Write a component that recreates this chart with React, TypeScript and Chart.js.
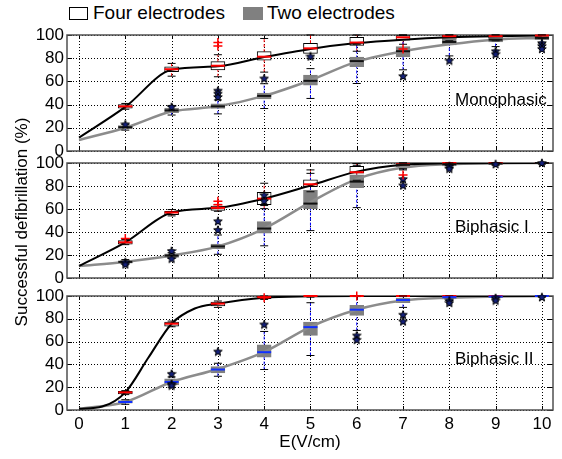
import React, { useEffect, useRef } from "react";
import { Chart, registerables } from "chart.js";
Chart.register(...registerables);

const FONT = "'Liberation Sans', Arial, Helvetica, sans-serif";
Chart.defaults.font.family = FONT;

// ---------- data ----------
const X_TICKS = [0, 1, 2, 3, 4, 5, 6, 7, 8, 9, 10];
const Y_TICKS = [0, 20, 40, 60, 80, 100];
const BOX_X = [1, 2, 3, 4, 5, 6, 7, 8, 9, 10];
const PANEL_NAMES = ["Monophasic", "Biphasic I", "Biphasic II"];
const LEGEND_LABELS = ["Four electrodes", "Two electrodes"];
const X_TITLE = "E(V/cm)";
const Y_TITLE = "Successful defibrillation (%)";

// box stats per E = 1..10 : [whiskerLow, q1, median, q3, whiskerHigh]
const monoFourBoxes = [
  [36, 37, 38.5, 40, 41], [64.5, 68.3, 70.5, 72.6, 75.5], [64, 70, 73.5, 77, 83],
  [68, 78.4, 81.3, 85.6, 97], [80, 84.2, 88.5, 92.8, 100], [86, 91, 93.5, 98, 100],
  [92, 95.5, 98, 99.5, 100], [95, 97, 99, 100, 100], [95, 97.5, 99, 100, 100],
  [97, 99, 99.5, 100, 100],
];
const monoTwoBoxes = [
  [18, 19, 20.5, 22, 23], [31, 33, 35, 37, 39], [32, 36.6, 38.5, 40.7, 44],
  [36.6, 45, 47.5, 50, 58], [45.3, 56.8, 60.5, 65.4, 71], [58.2, 72.6, 77.5, 81, 92],
  [70, 81, 86, 90, 100], [82, 91.4, 94, 98, 100], [90, 94, 96, 98.5, 100],
  [93, 96, 97.5, 99, 100],
];
const monoStars = [
  [1, 23], [2, 38], [3, 52], [3, 49.5], [3, 46.5], [4, 62.5], [5, 81.5], [7, 64.5],
  [8, 78], [9, 86], [9, 83.5], [10, 93], [10, 90.5], [10, 88],
];
const monoPlus = [[3, 93.5], [3, 90.5], [7, 88]];
const monoFourFit = [[0, 11.5], [1, 38], [2, 70], [3, 73], [4, 81], [5, 88], [6, 93], [7, 96], [8, 98], [9, 99], [10, 99.5]];
const monoTwoFit = [[0, 9.5], [1, 20], [2, 34], [3, 38.5], [4, 47.5], [5, 61], [6, 77], [7, 86], [8, 92], [9, 96], [10, 97.5]];

const bi1FourBoxes = [
  [29, 29.5, 31, 32.5, 33.5], [54, 55, 57, 58, 59.5], [58, 58.8, 61, 62.6, 64],
  [60.3, 63.8, 69, 74.4, 82.4], [75, 79.4, 81.5, 85.3, 94], [85, 91.2, 92, 97, 99.5],
  [95, 97, 99, 100, 100], [98, 99, 100, 100, 100], [99, 99.5, 100, 100, 100],
  [99.5, 100, 100, 100, 100],
];
const bi1TwoBoxes = [
  [12, 13, 14, 15, 16], [17, 18, 19.5, 21, 22], [20.6, 25.5, 27.5, 29.5, 37.4],
  [28, 39, 43, 49, 63], [41.2, 60.3, 64.7, 76.5, 91], [61.2, 78.5, 83.8, 89.7, 98],
  [94, 96.5, 98.5, 99.5, 100], [96, 97.5, 99, 100, 100], [98, 99, 99.5, 100, 100],
  [99, 99.5, 100, 100, 100],
];
const bi1Stars = [
  [1, 13.8], [1, 11.8], [2, 23.5], [2, 16.8], [3, 49.4], [3, 41.8], [4, 72], [4, 67],
  [7, 86], [7, 80.5], [8, 97], [8, 95], [9, 99], [10, 100],
];
const bi1Plus = [[1, 34.4], [3, 66.8], [3, 63.8], [7, 89.5]];
const bi1FourFit = [[0, 10.5], [1, 31], [2, 57], [3, 61], [4, 69], [5, 80.5], [6, 92.5], [7, 98.5], [8, 99.7], [9, 100], [10, 100]];
const bi1TwoFit = [[0, 10.5], [1, 14], [2, 19.5], [3, 27.5], [4, 43], [5, 66], [6, 86], [7, 96], [8, 99], [9, 99.7], [10, 100]];

const bi2FourBoxes = [
  [13.5, 14.1, 15.5, 16.4, 17], [73, 73.6, 75.7, 77.1, 78], [90, 91.2, 93.3, 94.7, 95.6],
  [97, 97.7, 99, 99.7, 100], [99, 99.5, 100, 100, 100], [99.5, 100, 100, 100, 100],
  [99.5, 100, 100, 100, 100], [99.5, 100, 100, 100, 100], [99.5, 100, 100, 100, 100],
  [99.5, 100, 100, 100, 100],
];
const bi2TwoBoxes = [
  [5, 5.9, 7, 8.2, 9], [20, 22.3, 24.6, 27.3, 29], [29.6, 32.6, 35.5, 38.1, 41],
  [35.5, 46.3, 50.7, 57.2, 68.9], [47.8, 65.4, 72.7, 77.1, 94.1], [69.8, 83, 88, 91.8, 100],
  [90, 94.1, 96.5, 98.2, 100], [96, 97.5, 99, 100, 100], [97.5, 98.5, 99.5, 100, 100],
  [99, 99.5, 100, 100, 100],
];
const bi2Stars = [
  [2, 31.7], [2, 22.9], [2, 21.4], [3, 51.3], [4, 75], [6, 65.4], [6, 61.6], [7, 83.6],
  [7, 77.7], [8, 96], [8, 94], [9, 98.2], [9, 96], [10, 99],
];
const bi2Plus = [[4, 98.5], [6, 100]];
const bi2FourFit = [[0, 1], [0.5, 3], [1, 15.5], [1.5, 46], [2, 75.7], [2.5, 89], [3, 93.3], [4, 98.5], [5, 99.7], [6, 100], [7, 100], [8, 100], [9, 100], [10, 100]];
const bi2TwoFit = [[0, 1], [1, 7], [2, 24.6], [3, 36], [4, 51], [5, 73], [6, 88], [7, 96], [8, 98.5], [9, 99.5], [10, 100]];

const PANELS = [
  { fourBoxes: monoFourBoxes, twoBoxes: monoTwoBoxes, stars: monoStars, plus: monoPlus, fourFit: monoFourFit, twoFit: monoTwoFit },
  { fourBoxes: bi1FourBoxes, twoBoxes: bi1TwoBoxes, stars: bi1Stars, plus: bi1Plus, fourFit: bi1FourFit, twoFit: bi1TwoFit },
  { fourBoxes: bi2FourBoxes, twoBoxes: bi2TwoBoxes, stars: bi2Stars, plus: bi2Plus, fourFit: bi2FourFit, twoFit: bi2TwoFit },
];

// ---------- layout / style ----------
const W = 562;
const PANEL_TOP = [25, 153, 286];
const PANEL_H = [135, 135, 173];
const X_AXIS_H = [9, 10, 49];
const TWO_MEDIAN_COLOR = ["#111111", "#111111", "#1030ff"];
const LABEL_CENTER_Y = [100, 227, 359];

function makeStar(): HTMLCanvasElement {
  const c = document.createElement("canvas");
  c.width = 10;
  c.height = 10;
  const g = c.getContext("2d")!;
  g.beginPath();
  for (let i = 0; i < 10; i++) {
    const r = i % 2 === 0 ? 4.5 : 1.9;
    const a = -Math.PI / 2 + (i * Math.PI) / 5;
    const px = 5 + r * Math.cos(a);
    const py = 5.3 + r * Math.sin(a);
    if (i === 0) g.moveTo(px, py);
    else g.lineTo(px, py);
  }
  g.closePath();
  g.fillStyle = "#14207a";
  g.fill();
  g.strokeStyle = "#000";
  g.lineWidth = 1;
  g.stroke();
  return c;
}

// dotted grid + inner tick marks + frame, placed through the chart's own scales
const framePlugin = {
  id: "frame",
  beforeDatasetsDraw(chart: any) {
    const { ctx, chartArea: a, scales } = chart;
    const xs = scales.x;
    const ys = scales.y;
    ctx.save();
    ctx.strokeStyle = "#000";
    ctx.lineWidth = 1;
    ctx.setLineDash([1, 2]);
    ctx.beginPath();
    X_TICKS.forEach((v) => {
      const px = Math.round(xs.getPixelForValue(v)) + 0.5;
      ctx.moveTo(px, a.top);
      ctx.lineTo(px, a.bottom);
    });
    Y_TICKS.forEach((v) => {
      const py = Math.round(ys.getPixelForValue(v)) + 0.5;
      ctx.moveTo(a.left, py);
      ctx.lineTo(a.right, py);
    });
    ctx.stroke();
    ctx.setLineDash([]);
    ctx.beginPath();
    X_TICKS.forEach((v) => {
      const px = Math.round(xs.getPixelForValue(v)) + 0.5;
      ctx.moveTo(px, a.bottom);
      ctx.lineTo(px, a.bottom - 4);
      ctx.moveTo(px, a.top);
      ctx.lineTo(px, a.top + 4);
    });
    Y_TICKS.forEach((v) => {
      const py = Math.round(ys.getPixelForValue(v)) + 0.5;
      ctx.moveTo(a.left, py);
      ctx.lineTo(a.left + 5, py);
      ctx.moveTo(a.right, py);
      ctx.lineTo(a.right - 5, py);
    });
    ctx.stroke();
    ctx.strokeStyle = "#505050";
    ctx.lineWidth = 1.5;
    ctx.strokeRect(a.left, a.top, a.right - a.left, a.bottom - a.top);
    ctx.restore();
  },
};

function boxSets(boxes: number[][], fill: string, border: string, median: string, whisker: string, o: number) {
  return [
    {
      type: "scatter",
      data: boxes.map((b, i) => ({ x: BOX_X[i], y: b[2] })),
      pointStyle: "line", pointRadius: 7, borderColor: median, borderWidth: 2,
      backgroundColor: median, clip: false, order: o,
    },
    {
      type: "scatter",
      data: boxes.flatMap((b, i) => [{ x: BOX_X[i], y: b[0] }, { x: BOX_X[i], y: b[4] }]),
      pointStyle: "line", pointRadius: 4, borderColor: "#000", borderWidth: 1, clip: false, order: o + 1,
    },
    {
      type: "bar",
      data: boxes.map((b, i) => ({ x: BOX_X[i], y: [b[1], b[3]] })),
      backgroundColor: fill, borderColor: border, borderWidth: 1, borderSkipped: false,
      barThickness: 14, grouped: false, clip: false, order: o + 20,
    },
    {
      type: "line",
      data: boxes.flatMap((b, i) => [{ x: BOX_X[i], y: b[0] }, { x: BOX_X[i], y: b[4] }, { x: BOX_X[i], y: null }]),
      borderColor: whisker, borderWidth: 1, borderDash: [3, 2], pointRadius: 0, spanGaps: false,
      clip: false, order: 40,
    },
  ];
}

function makeConfig(idx: number, star: HTMLCanvasElement): any {
  const p = PANELS[idx];
  const bottom = idx === 2;
  const tickFont = { family: FONT, size: 17 };
  const datasets: any[] = [
    {
      type: "scatter", data: p.plus.map(([x, y]) => ({ x, y })), pointStyle: "cross",
      pointRadius: 4.5, borderColor: "#ff0000", borderWidth: 1.5, clip: false, order: 0,
    },
    {
      type: "scatter", data: p.stars.map(([x, y]) => ({ x, y })), pointStyle: star,
      pointRadius: 4, clip: false, order: 1,
    },
    ...boxSets(p.twoBoxes, "#808080", "#808080", TWO_MEDIAN_COLOR[idx], "#0000ff", 2),
    ...boxSets(p.fourBoxes, "#ffffff", "#000000", "#ff0000", "#ff0000", 4),
    {
      type: "line", data: p.fourFit.map(([x, y]) => ({ x, y })), borderColor: "#000000",
      borderWidth: 2, pointRadius: 0, cubicInterpolationMode: "monotone", order: 10,
    },
    {
      type: "line", data: p.twoFit.map(([x, y]) => ({ x, y })), borderColor: "#8c8c8c",
      borderWidth: 2.5, pointRadius: 0, cubicInterpolationMode: "monotone", order: 11,
    },
  ];
  return {
    type: "scatter",
    data: { datasets },
    options: {
      animation: false,
      responsive: false,
      maintainAspectRatio: false,
      events: [],
      layout: { padding: { left: 0, right: 8, top: 10, bottom: 0 } },
      plugins: { legend: { display: false }, tooltip: { enabled: false } },
      scales: {
        x: {
          type: "linear", min: -0.26, max: 10.24, offset: false,
          afterBuildTicks: (s: any) => { s.ticks = X_TICKS.map((v) => ({ value: v })); },
          afterFit: (s: any) => { s.height = X_AXIS_H[idx]; s.paddingLeft = 0; s.paddingRight = 0; },
          ticks: { display: bottom, font: tickFont, color: "#000", padding: 4, maxRotation: 0, autoSkip: false },
          grid: { display: false, drawTicks: false },
          border: { display: false },
          title: { display: bottom, text: X_TITLE, font: tickFont, color: "#000", padding: { top: 0, bottom: 6 } },
        },
        y: {
          type: "linear", min: 0, max: 100,
          afterBuildTicks: (s: any) => { s.ticks = Y_TICKS.map((v) => ({ value: v })); },
          afterFit: (s: any) => { s.width = 67; s.paddingTop = 0; s.paddingBottom = 0; },
          ticks: { font: tickFont, color: "#000", padding: 3, autoSkip: false },
          grid: { display: false, drawTicks: false },
          border: { display: false },
        },
      },
    },
    plugins: [framePlugin],
  };
}

function Panel({ idx }: { idx: number }) {
  const ref = useRef<HTMLCanvasElement>(null);
  useEffect(() => {
    const chart = new Chart(ref.current!, makeConfig(idx, makeStar()));
    return () => chart.destroy();
  }, [idx]);
  return (
    <canvas
      ref={ref}
      width={W}
      height={PANEL_H[idx]}
      style={{ position: "absolute", left: 0, top: PANEL_TOP[idx], width: W, height: PANEL_H[idx] }}
    />
  );
}

export default function App() {
  const text: React.CSSProperties = { position: "absolute", fontFamily: FONT, color: "#000", whiteSpace: "nowrap" };
  return (
    <div style={{ position: "absolute", left: 0, top: 0, width: W, height: 459, background: "#fff", overflow: "hidden" }}>
      {[0, 1, 2].map((i) => (
        <Panel key={i} idx={i} />
      ))}
      {PANEL_NAMES.map((n, i) => (
        <div key={n} style={{ ...text, left: 455, top: LABEL_CENTER_Y[i] - 10, fontSize: 17, lineHeight: "20px" }}>{n}</div>
      ))}
      <div style={{ position: "absolute", left: 69, top: 7, width: 19, height: 13, boxSizing: "border-box", border: "1.5px solid #000", background: "#fff" }} />
      <div style={{ ...text, left: 93, top: 2, fontSize: 19, lineHeight: "22px" }}>{LEGEND_LABELS[0]}</div>
      <div style={{ position: "absolute", left: 243, top: 7, width: 20, height: 13, background: "#808080" }} />
      <div style={{ ...text, left: 267, top: 2, fontSize: 19, lineHeight: "22px" }}>{LEGEND_LABELS[1]}</div>
      <div
        style={{
          ...text, left: 22 - 140, top: 222 - 10, width: 280, height: 20, lineHeight: "20px",
          textAlign: "center", fontSize: 17, transform: "rotate(-90deg)",
        }}
      >
        {Y_TITLE}
      </div>
    </div>
  );
}
